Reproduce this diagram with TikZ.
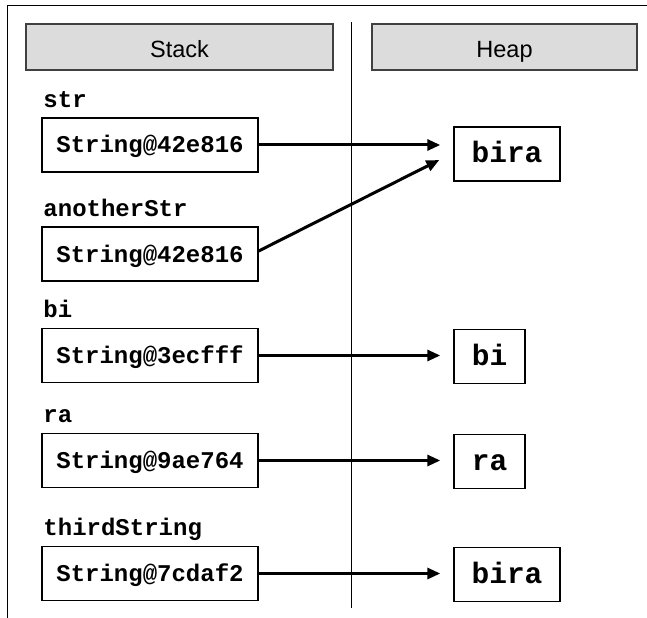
\documentclass[tikz,border=0pt]{standalone}
\usepackage{fontspec}
\setmainfont{Liberation Sans}
\setmonofont{Liberation Mono}
\usetikzlibrary{positioning,arrows.meta,calc}
\definecolor{headgray}{HTML}{DCDCDC}
\definecolor{headline}{HTML}{404040}

\begin{document}
\begin{tikzpicture}[
  x=1bp,y=-1bp,
  head/.style={draw=headline,line width=1.5bp,fill=headgray,minimum height=46bp,
               inner sep=0pt,text height=22bp,text depth=0bp,
               font=\fontsize{23.5bp}{26bp}\selectfont},
  ref/.style={draw,line width=1.4bp,minimum width=216bp,minimum height=54bp,inner sep=0pt,
              text height=16bp,text depth=0bp,
              font=\fontsize{24bp}{27bp}\selectfont\ttfamily\bfseries},
  obj/.style={draw,line width=1.4bp,minimum height=54bp,inner sep=0pt,
              text height=18bp,text depth=0bp,
              font=\fontsize{29.5bp}{32bp}\selectfont\ttfamily\bfseries},
  var/.style={anchor=base west,inner sep=0pt,
              font=\fontsize{24bp}{27bp}\selectfont\ttfamily\bfseries},
  link/.style={-{Triangle[length=13bp,width=11bp]},line width=3bp}
]
\useasboundingbox (0,0) rectangle (647,618);

% ---- frame and divider ----
\draw[line width=1bp] (7,6) -- (647,6);
\draw[line width=1bp] (7,6) -- (7,618);
\draw[line width=1bp] (351.5,22) -- (351.5,608);

% ---- headers ----
\node[head,minimum width=307bp] (stack) at (179.5,47) {Stack};
\node[head,minimum width=265bp] (heap) at (504.5,47) {Heap};

% ---- stack references ----
\node[ref] (s1) at (150,145) {String@42e816};
\node[ref] (s2) at (150,254) {String@42e816};
\node[ref] (s3) at (150,355.5) {String@3ecfff};
\node[ref] (s4) at (150,460.5) {String@9ae764};
\node[ref] (s5) at (150,573.5) {String@7cdaf2};

\node[var] (v1) at ($(s1.north west)+(2,-10)$) {str};
\node[var] (v2) at ($(s2.north west)+(2,-10)$) {anotherStr};
\node[var] (v3) at ($(s3.north west)+(2,-10)$) {bi};
\node[var] (v4) at ($(s4.north west)+(2,-10)$) {ra};
\node[var] (v5) at ($(s5.north west)+(2,-10)$) {thirdString};

% ---- heap objects ----
\node[obj,minimum width=106bp] (h1) at (507,154) {bira};
\node[obj,minimum width=71bp] (h2) at (489.5,356.5) {bi};
\node[obj,minimum width=71bp] (h3) at (489.5,461.5) {ra};
\node[obj,minimum width=106bp] (h4) at (507,574.5) {bira};

\draw[link] (s1.east) -- ([xshift=-13bp]h1.west |- s1.east);
\draw[link] ([yshift=3bp]s2.east) -- ([shift={(-14,6)}]h1.west);
\draw[link] (s3.east) -- ([xshift=-13bp]h2.west |- s3.east);
\draw[link] (s4.east) -- ([xshift=-13bp]h3.west |- s4.east);
\draw[link] (s5.east) -- ([xshift=-13bp]h4.west |- s5.east);

\end{tikzpicture}
\end{document}
